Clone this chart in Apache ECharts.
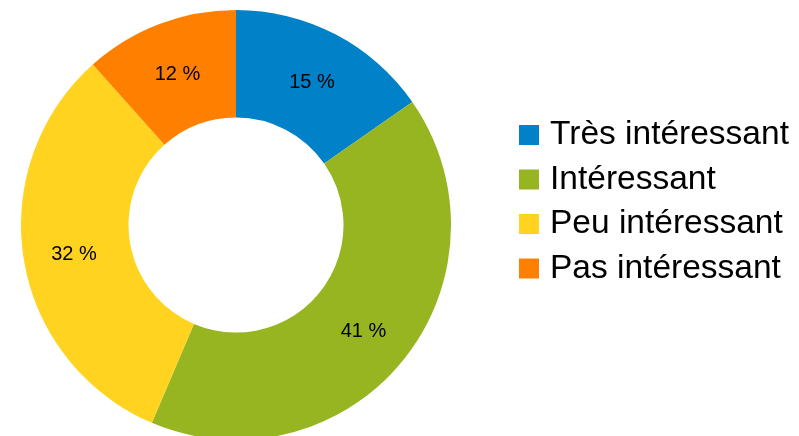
<!DOCTYPE html>
<html>
<head>
<meta charset="utf-8">
<script src="https://cdn.jsdelivr.net/npm/echarts@6/dist/echarts.min.js"></script>
<style>
    html, body {margin: 0; padding: 0; background: #fff;}
    #chart {width: 799px; height: 436px;}
</style>
</head>
<body>
<div id="chart"></div>
<script>
var categories = ['Très intéressant', 'Intéressant', 'Peu intéressant', 'Pas intéressant'];
var shares = [15.3, 41.1, 32.0, 11.6];
var colors = ['#0081c8', '#97b521', '#ffd320', '#ff8000'];

var chart;

/**
 * Draw the donut chart.
 */
function drawDonut() {
    chart = echarts.init(document.getElementById('chart'));

    var data = categories.map(function (name, i) {
        return {name: name, value: shares[i]};
    });

    var option = {
        animation: false,
        color: colors,
        legend: {
            orient: 'vertical',
            left: 514,
            top: 113,
            itemWidth: 20,
            itemHeight: 20,
            itemGap: 10.5,
            icon: 'rect',
            textStyle: {fontFamily: 'Liberation Sans', fontSize: 33.5, color: '#000', padding: [0, 0, 0, 6]},
            data: categories
        },
        series: [{
            type: 'pie',
            center: [236, 225],
            radius: [107.5, 215],
            startAngle: 90,
            clockwise: true,
            label: {
                show: true,
                position: 'inside',
                fontFamily: 'Liberation Sans',
                fontSize: 20,
                color: '#000',
                offset: [0, 3],
                formatter: function (p) {
                    return Math.round(p.percent) + ' %';
                }
            },
            labelLine: {show: false},
            emphasis: {disabled: true},
            data: data
        }]
    };

    chart.setOption(option);
}

drawDonut();

window.onresize = function () {
    if (null != chart) {
        chart.resize();
    }
};
</script>
</body>
</html>
